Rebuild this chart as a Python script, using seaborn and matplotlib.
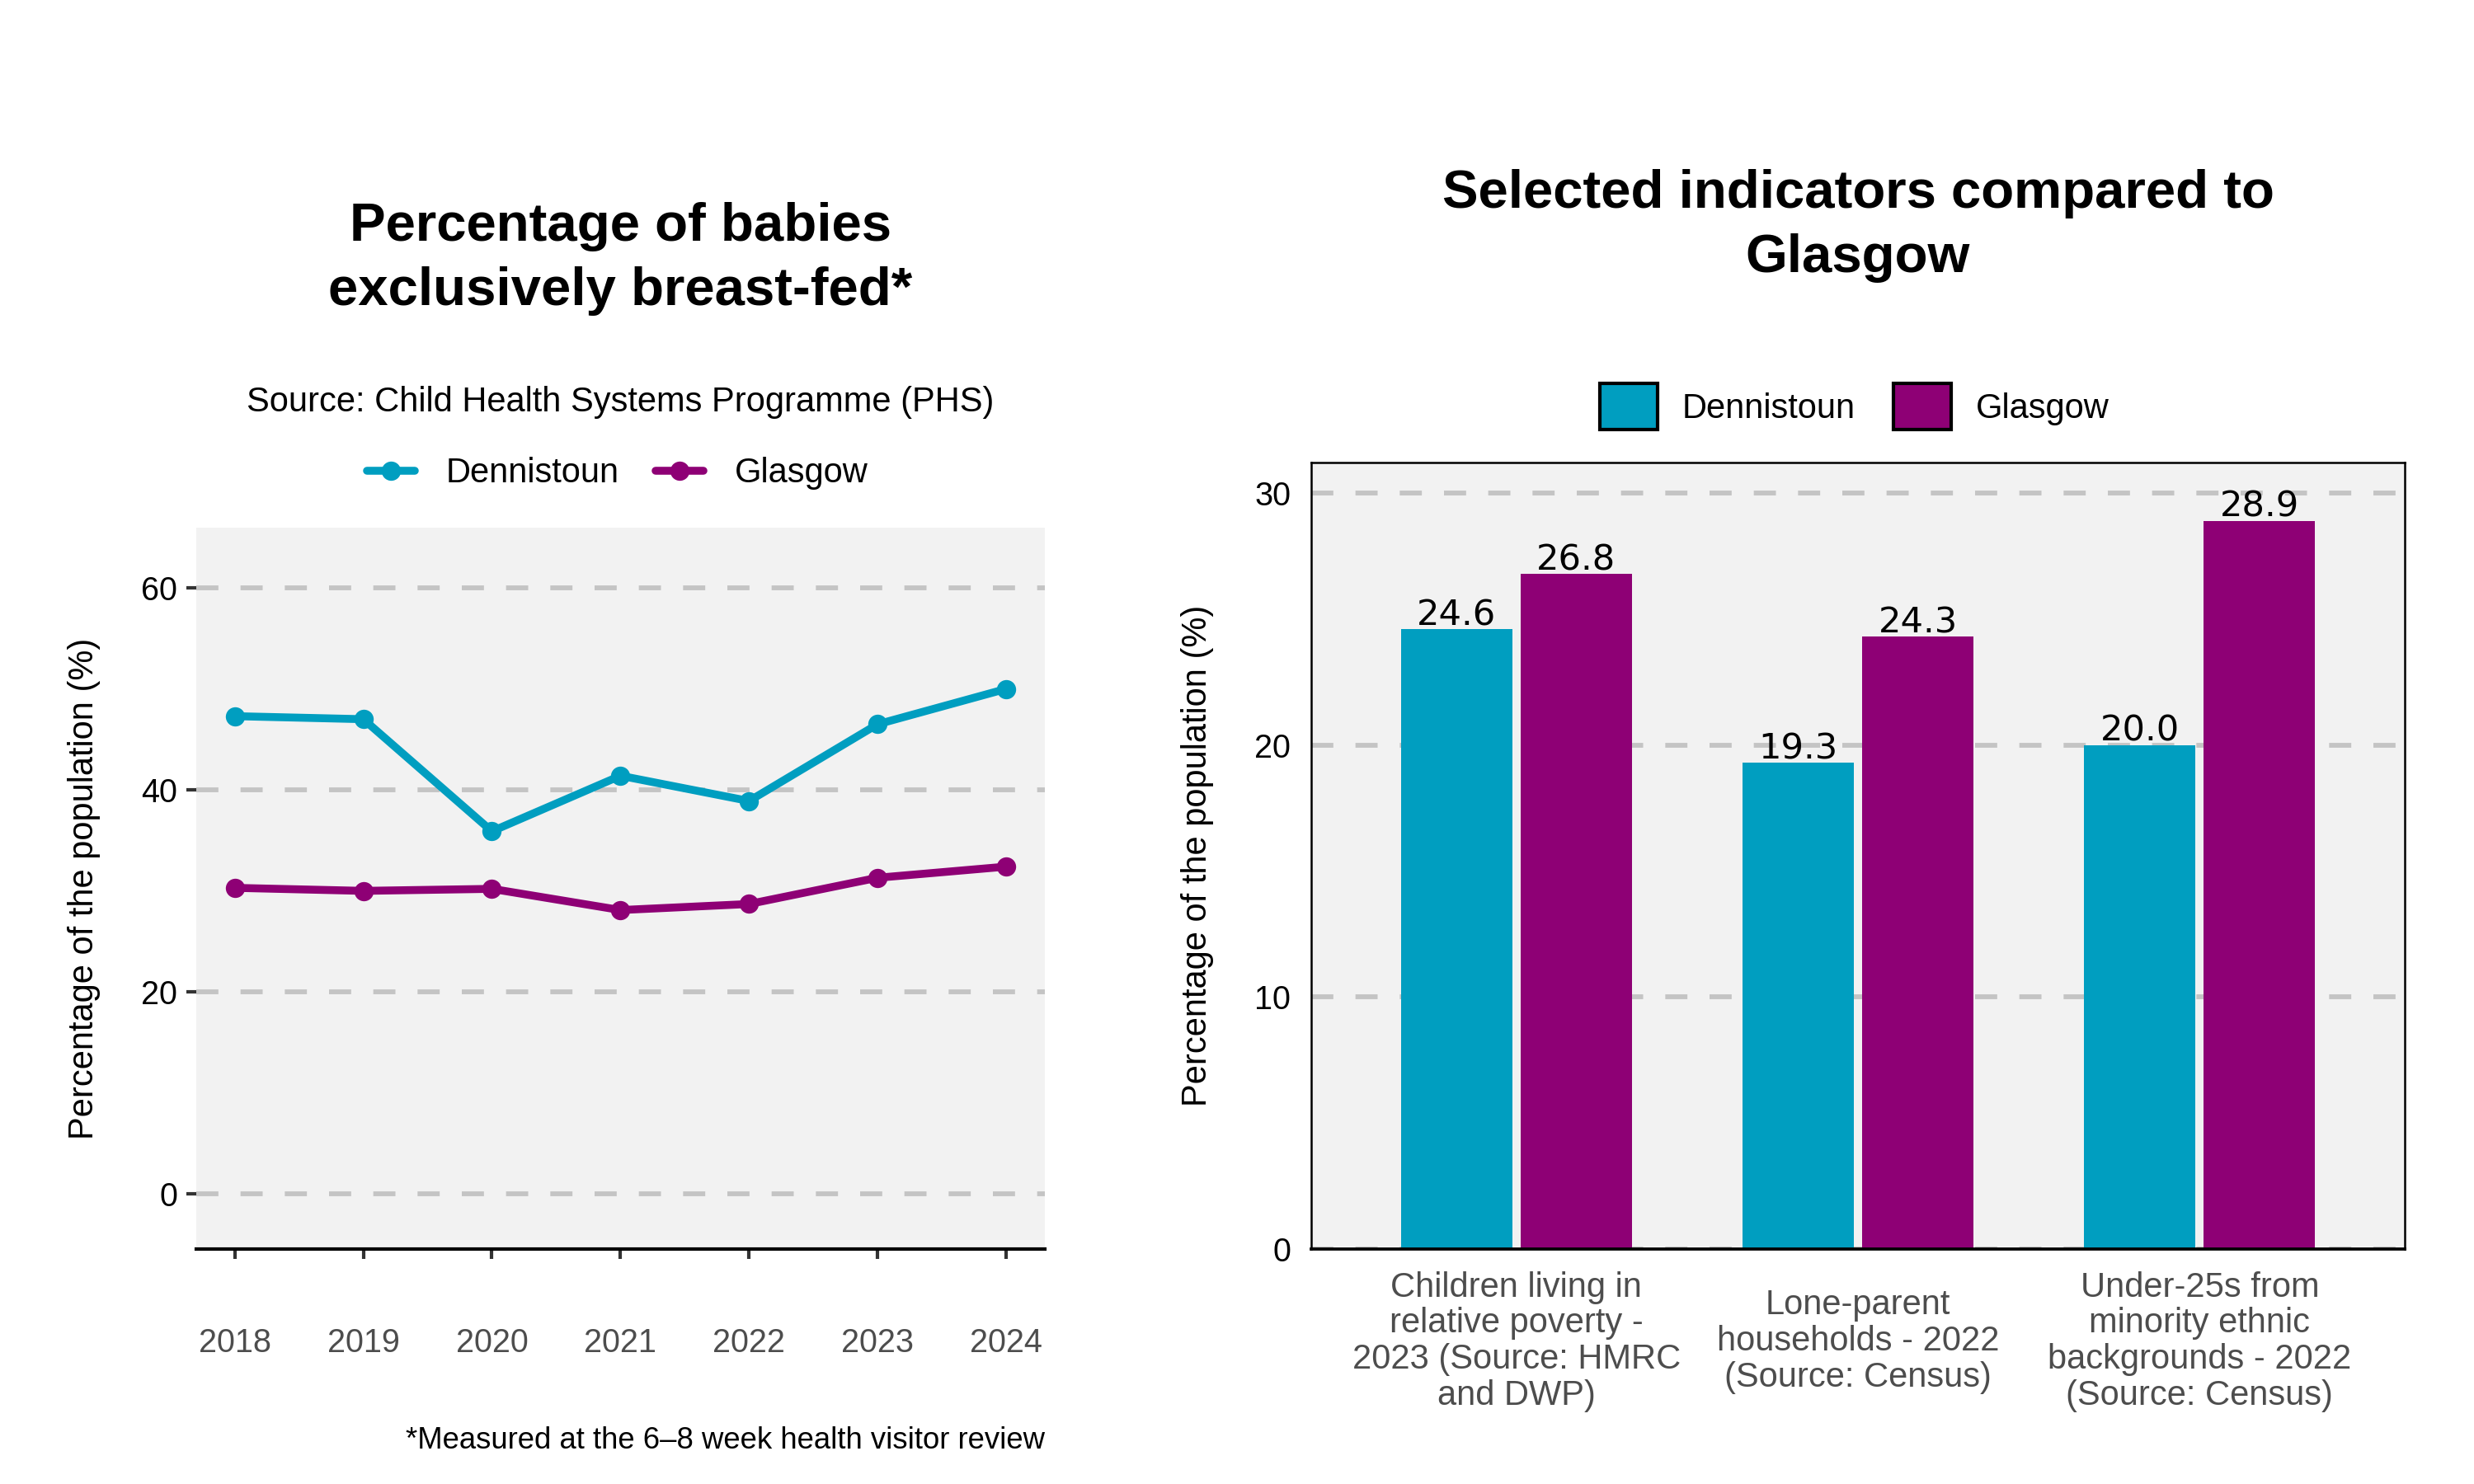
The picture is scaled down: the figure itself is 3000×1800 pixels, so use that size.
import numpy as np
import pandas as pd
import seaborn as sns
import matplotlib.pyplot as plt
from matplotlib.lines import Line2D
from matplotlib.patches import Patch

sns.set_theme(style="white")
plt.rcParams["font.family"] = ["Liberation Sans", "DejaVu Sans"]
plt.rcParams["text.color"] = "black"

# breast-feeding line chart
years = [2018, 2019, 2020, 2021, 2022, 2023, 2024]
dennistoun_bf = [47.3, 47.0, 35.9, 41.4, 38.9, 46.5, 50.0]
glasgow_bf = [30.3, 30.0, 30.2, 28.1, 28.7, 31.3, 32.4]

# indicator bar chart
areas = ["Dennistoun", "Glasgow"]
indicators = [
    "Children living in\nrelative poverty -\n2023 (Source: HMRC\nand DWP)",
    "Lone-parent\nhouseholds - 2022\n(Source: Census)",
    "Under-25s from\nminority ethnic\nbackgrounds - 2022\n(Source: Census)",
]
dennistoun_ind = [24.6, 19.3, 20.0]
glasgow_ind = [26.8, 24.3, 28.9]

colours = {"Dennistoun": "#009EC0", "Glasgow": "#8E0075"}
grid_style = dict(color="#C4C4C4", linewidth=1.4, linestyle=(0, (4.6, 4.6)))

bf = pd.DataFrame({
    "year": years * 2,
    "pct": dennistoun_bf + glasgow_bf,
    "area": ["Dennistoun"] * len(years) + ["Glasgow"] * len(years),
})
ind = pd.DataFrame({
    "indicator": indicators * 2,
    "pct": dennistoun_ind + glasgow_ind,
    "area": ["Dennistoun"] * len(indicators) + ["Glasgow"] * len(indicators),
})

fig = plt.figure(figsize=(10, 6), dpi=300)
ax1 = fig.add_axes([0.0793, 0.1583, 0.343, 0.4861])
ax2 = fig.add_axes([0.53, 0.1583, 0.442, 0.53])

# ---- left panel
sns.lineplot(data=bf, x="year", y="pct", hue="area", palette=colours,
             marker="o", markersize=5.6, markeredgewidth=0, linewidth=2.3,
             legend=False, ax=ax1)
ax1.set_facecolor("#F2F2F2")
ax1.set_xlim(2017.7, 2024.3)
ax1.set_ylim(-5.47, 65.96)
ax1.set_xticks(years)
ax1.set_yticks([0, 20, 40, 60])
ax1.yaxis.grid(True, **grid_style)
ax1.xaxis.grid(False)
ax1.set_axisbelow(True)
for s in ["top", "right", "left"]:
    ax1.spines[s].set_visible(False)
ax1.spines["bottom"].set_color("black")
ax1.spines["bottom"].set_linewidth(1.0)
ax1.tick_params(axis="x", bottom=True, length=2.9, width=1.0, color="#333333",
                pad=20, labelsize=9.5, labelcolor="#4D4D4D")
ax1.tick_params(axis="y", left=True, length=2.9, width=1.0, color="#333333",
                pad=2.6, labelsize=9.5, labelcolor="black")
ax1.set_xlabel("")
ax1.set_ylabel("Percentage of the population (%)", fontsize=10, color="black")
ax1.yaxis.set_label_coords(-0.1127, 0.5)

# ---- right panel
sns.barplot(data=ind, x="indicator", y="pct", hue="area", palette=colours,
            saturation=1, width=0.7, gap=0.07, errorbar=None, legend=False,
            linewidth=0, edgecolor="none", ax=ax2)
for c in ax2.containers:
    ax2.bar_label(c, fmt="%.1f", padding=-1, fontsize=10.4, family="DejaVu Sans", color="black")
ax2.set_facecolor("#F2F2F2")
ax2.set_xlim(-0.6, 2.6)
ax2.set_ylim(0, 31.21)
ax2.set_yticks([0, 10, 20, 30])
ax2.yaxis.grid(True, **grid_style)
ax2.xaxis.grid(False)
ax2.set_axisbelow(True)
for s in ax2.spines.values():
    s.set_visible(True)
    s.set_color("black")
    s.set_linewidth(0.6)
ax2.spines["bottom"].set_linewidth(0.9)
ax2.tick_params(axis="x", length=0, pad=26.9, labelsize=10, labelcolor="#4D4D4D")
ax2.tick_params(axis="y", length=0, pad=6, labelsize=9.5, labelcolor="black")
for lbl in ax2.get_xticklabels():
    lbl.set_va("center")
    lbl.set_linespacing(1.12)
ax2.set_xlabel("")
ax2.set_ylabel("Percentage of the population (%)", fontsize=10, color="black")
ax2.yaxis.set_label_coords(-0.089, 0.5)

# ---- titles, legends, notes
fig.text(0.2508, 0.8256, "Percentage of babies\nexclusively breast-fed*", ha="center",
         va="center", fontsize=15.7, fontweight="bold", linespacing=1.4, color="black")
fig.text(0.751, 0.8478, "Selected indicators compared to\nGlasgow", ha="center",
         va="center", fontsize=15.7, fontweight="bold", linespacing=1.4, color="black")
fig.text(0.2508, 0.729, "Source: Child Health Systems Programme (PHS)", ha="center",
         va="center", fontsize=10, color="black")
fig.text(0.4223, 0.0294, "*Measured at the 6\u20138 week health visitor review", ha="right",
         va="center", fontsize=8.75, color="black")

line_handles = [Line2D([0], [0], color=colours[a], lw=2.3, marker="o", markersize=5.6,
                       markeredgewidth=0) for a in areas]
fig.legend(line_handles, areas, loc="center", bbox_to_anchor=(0.2495, 0.681), ncol=2,
           frameon=False, fontsize=10, handlelength=1.4, handletextpad=0.9,
           columnspacing=1.05, borderaxespad=0, borderpad=0)

box_handles = [Patch(facecolor=colours[a], edgecolor="black", linewidth=1.0) for a in areas]
fig.legend(box_handles, areas, loc="center", bbox_to_anchor=(0.7495, 0.726), ncol=2,
           frameon=False, fontsize=10, handlelength=1.7, handleheight=1.7,
           handletextpad=0.7, columnspacing=1.1, borderaxespad=0, borderpad=0)

fig.savefig("out.png", dpi=300, facecolor="white")
